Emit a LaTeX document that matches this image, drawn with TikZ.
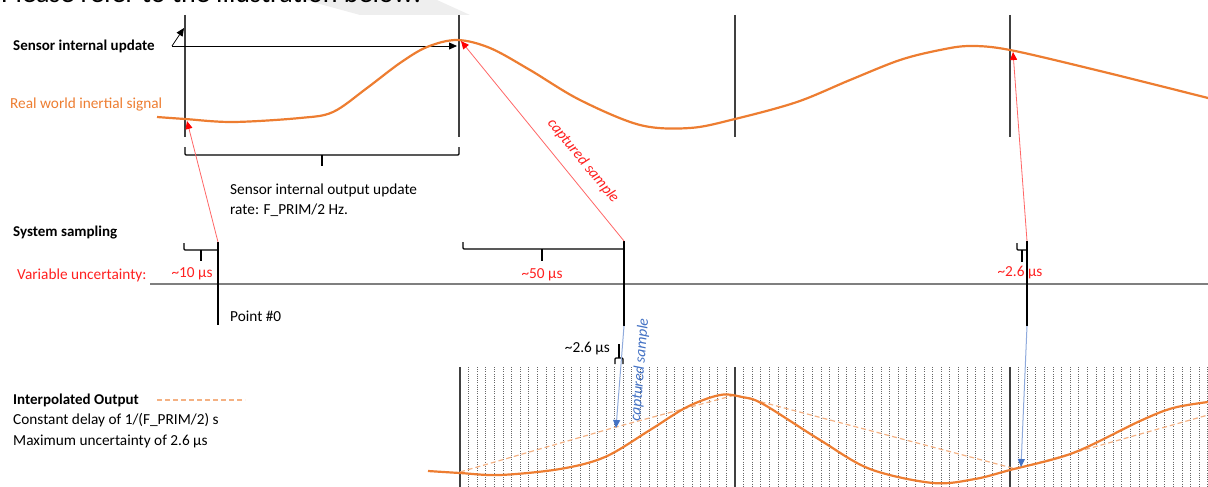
\documentclass[tikz,border=0pt]{standalone}
\usepackage{fontspec}
\setmainfont{Carlito}
\usetikzlibrary{arrows.meta}
\definecolor{sigorange}{HTML}{ED7D31}
\definecolor{lightorange}{HTML}{F4B183}
\definecolor{redline}{HTML}{FF6666}
\definecolor{redtext}{HTML}{FF2020}
\definecolor{bluehead}{HTML}{4472C4}
\definecolor{blueline}{HTML}{8FAADC}
\definecolor{vline}{HTML}{404040}
\definecolor{hline}{HTML}{7F7F7F}
\begin{document}
\begin{tikzpicture}[x=1pt,y=-1pt,
  lbl/.style={inner sep=0pt,anchor=west,font=\fontsize{15.3}{18}\selectfont},
  blbl/.style={lbl,font=\fontsize{15}{18}\selectfont\bfseries},
  clbl/.style={inner sep=0pt,font=\fontsize{15.3}{18}\selectfont},
  tick/.style={draw=vline,line width=1.5pt},
  bracket/.style={draw=black,line width=1.3pt,line join=round,rounded corners=1pt},
  sig/.style={draw=sigorange,line width=2.2pt},
  interp/.style={draw=lightorange,line width=1.2pt,dash pattern=on 5pt off 3pt},
  grid/.style={draw=black!60,line width=0.8pt,dash pattern=on 1pt off 1.2pt},
  redarrow/.style={draw=redline,line width=0.8pt,-{Triangle[length=8pt,width=7pt,fill=red,color=red]}},
  bluearrow/.style={draw=blueline,line width=1pt,-{Triangle[length=8pt,width=7pt,fill=bluehead,color=bluehead]}},
  blkarrow/.style={draw=black,line width=0.8pt,-{Triangle[length=8pt,width=7pt]}}
]
\useasboundingbox (0,0) rectangle (1208,487);
\clip (0,0) rectangle (1208,487);

% partial heading and watermark band at top edge
\fill[gray!13] (305,0) -- (437,0) -- (470,15) -- (360,15) -- cycle;
\node[inner sep=0pt,anchor=base west,font=\fontsize{28}{30}\selectfont] (head) at (1,3) {Please refer to the illustration below:};

% ---------------- top: sensor internal update ----------------
\coordinate (v1t) at (185,15);  \coordinate (v1b) at (185,137);
\coordinate (v2t) at (459,15);  \coordinate (v2b) at (459,137);
\coordinate (v3t) at (735,15);  \coordinate (v3b) at (735,137);
\coordinate (v4t) at (1010,15); \coordinate (v4b) at (1010,137);
\draw[tick] (v1t) -- (v1b);
\draw[tick] (v2t) -- (v2b);
\draw[tick] (v3t) -- (v3b);
\draw[tick] (v4t) -- (v4b);

\node[blbl] (siu) at (13,46) {Sensor internal update};
\node[lbl,text=sigorange] (rwis) at (10,105) {Real world inertial signal};

\coordinate (a0) at (172,46);
\coordinate (a1) at (184,28);
\coordinate (a2) at (457,46);
\draw[blkarrow] (a0) -- (a1);
\draw[blkarrow] (a0) -- (a2);

\draw[sig] plot[smooth,tension=0.55] coordinates {
 (157,117) (185,119) (233,122) (300,118) (333,112) (367,88) (400,63) (427,47) (457,40)
 (490,48) (530,70) (580,100) (640,125) (690,128) (735,119) (797,102) (850,80)
 (900,60) (940,50) (970,46) (1010,50) (1100,71) (1208,98)};

% brace under first period
\coordinate (br1a) at (185,147); \coordinate (br1b) at (459,147);
\coordinate (br1m) at (322,166);
\draw[bracket] (br1a) -- (185,155) -- (459,155) -- (br1b);
\draw[bracket,rounded corners=0pt] (322,155) -- (br1m);
\node[lbl] (rate1) at (230,190) {Sensor internal output update};
\node[lbl] (rate2) at (230,210) {rate: F\_PRIM/2 Hz.};

% ---------------- system sampling ----------------
\node[blbl] (ss) at (13,233) {System sampling};
\node[lbl,text=redtext] (vu) at (17,275) {Variable uncertainty:};
\coordinate (hl0) at (150,284); \coordinate (hl1) at (1208,284);
\draw[draw=hline,line width=1.3pt] (hl0) -- (hl1);

\coordinate (s0t) at (218,242); \coordinate (s0b) at (218,325);
\coordinate (s1t) at (624,241); \coordinate (s1b) at (624,326);
\coordinate (s2t) at (1027,241); \coordinate (s2b) at (1027,326);
\draw[draw=black,line width=1.5pt] (s0t) -- (s0b);
\draw[draw=black,line width=1.5pt] (s1t) -- (s1b);
\draw[draw=black,line width=1.5pt] (s2t) -- (s2b);

% small brace ~10us
\draw[bracket] (184,243) -- (184,250) -- (218,250);
\draw[bracket,rounded corners=0pt] (201,250) -- (201,261);
\node[clbl,text=redtext] (u10) at (192,274) {\textasciitilde10 µs};
\node[lbl] (p0) at (230,316) {Point \#0};

% brace ~50us
\draw[bracket] (463,242) -- (463,249) -- (624,249);
\draw[bracket,rounded corners=0pt] (542,249) -- (542,261);
\node[clbl,text=redtext] (u50) at (542,275) {\textasciitilde50 µs};

% brace ~2.6us right
\draw[bracket] (1017,243) -- (1017,250) -- (1027,250);
\draw[bracket,rounded corners=0pt] (1022,250) -- (1022,262);
\node[clbl,text=redtext] (u26r) at (1020,273) {\textasciitilde2.6 µs};

% red captured-sample arrows
\coordinate (p0t) at (187,121);
\coordinate (p1t) at (461,41);
\coordinate (p2t) at (1013,52);
\draw[redarrow] (s0t) -- (p0t);
\draw[redarrow] (s1t) -- (p1t);
\draw[redarrow] (s2t) -- (p2t);
\node[clbl,text=redtext,font=\fontsize{15.3}{18}\selectfont\itshape,rotate=-50.6] (cs1) at (583,161) {captured sample};

% ---------------- interpolated output ----------------
\node[blbl] (io) at (13,400) {Interpolated Output};
\coordinate (lg0) at (157,400); \coordinate (lg1) at (245,400);
\draw[interp] (lg0) -- (lg1);
\node[lbl] (cd) at (13,420) {Constant delay of 1/(F\_PRIM/2) s};
\node[lbl] (mu) at (13,441) {Maximum uncertainty of 2.6 µs};

% grid
\foreach \i in {1,...,87}{
  \pgfmathtruncatemacro{\m}{mod(\i,32)}
  \ifnum\m=0\relax\else
    \draw[grid] ({460+\i*8.594},367) -- ({460+\i*8.594},487);
  \fi
}
\coordinate (g1t) at (460,367); \coordinate (g1b) at (460,487);
\coordinate (g2t) at (735,367); \coordinate (g2b) at (735,487);
\coordinate (g3t) at (1010,367); \coordinate (g3b) at (1010,487);
\draw[tick] (g1t) -- (g1b);
\draw[tick] (g2t) -- (g2b);
\draw[tick] (g3t) -- (g3b);

% interpolated (dashed) and real (solid) signals
\draw[interp] (460,472) -- (616,427) -- (735,395) -- (1016,469) -- (1208,415);
\draw[sig] plot[smooth,tension=0.55] coordinates {
 (428,471) (460,473) (500,475) (560,469) (605,457) (650,430) (687,407) (720,395)
 (742,397) (763,404) (820,440) (870,469) (933,483) (975,479) (1010,470)
 (1073,453) (1140,421) (1173,408) (1208,402)};

% small brace ~2.6us (inverted)
\draw[bracket] (615,364) -- (615,358) -- (623,358) -- (623,364);
\draw[bracket,rounded corners=0pt] (619,358) -- (619,344);
\node[clbl,anchor=east] (u26) at (610,349) {\textasciitilde2.6 µs};

% blue arrows
\coordinate (b1) at (616,428);
\coordinate (b2) at (1021,467);
\draw[bluearrow] (s1b) -- (b1);
\draw[bluearrow] (s2b) -- (b2);
\node[clbl,text=bluehead,font=\fontsize{15.3}{18}\selectfont\itshape,rotate=85.4] (cs2) at (640,370) {captured sample};
\end{tikzpicture}
\end{document}
